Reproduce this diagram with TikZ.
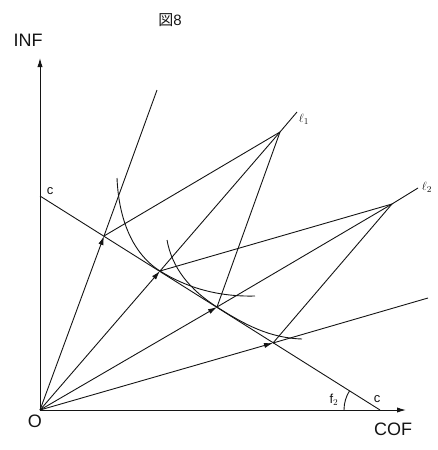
\documentclass[tikz,border=0pt]{standalone}
\usepackage{amsmath}
\usepackage{fontspec}
\setmainfont{Liberation Sans}
\newfontfamily\cjk{Noto Sans CJK JP}
\usepackage{tikz}
\usetikzlibrary{arrows.meta,calc}
\definecolor{inkblack}{RGB}{20,20,20}

\tikzset{
  lab/.style={inner sep=0pt, font=\fontsize{18}{20}\selectfont},
  small/.style={inner sep=0pt, font=\fontsize{13}{15}\selectfont},
  curve/.style={inkblack, line width=0.9pt},
}

\begin{document}
\begin{tikzpicture}[x=1pt, y=-1pt, line width=0.9pt, inkblack,
    >={Latex[length=9pt,width=5.2pt]}]
\useasboundingbox (0,0) rectangle (437,450);

% axes
\coordinate (O) at (40,410);
\coordinate (ytop) at (40,58);
\coordinate (xtop) at (406,410);
\draw[->] (O) -- (ytop);
\draw[->] (O) -- (xtop);
\node[lab] (inf) at (28,40) {INF};
\node[lab] (cof) at (393,429) {COF};
\node[lab] (orig) at (35,421) {O};
\node[inner sep=0pt, font=\fontsize{15}{17}\selectfont] (title) at (170,20) {{\cjk 図}8};

% cost line c--c
\coordinate (ca) at (40,196);
\coordinate (cb) at (380,410);
\draw (ca) -- (cb);
\node[small] (cl) at (50,191) {c};
\node[small] (cr) at (377,399) {c};
\draw (cb) ++(-36,0) arc[start angle=180, end angle=148, radius=36pt];
\node[inner sep=0pt, font=\fontsize{13}{15}\selectfont] (ftwo) at (334,400) {$\mathrm{f}_2$};

% points on the cost line
\coordinate (p1) at (104,236);
\coordinate (p2) at (160,271);
\coordinate (p3) at (217,307);
\coordinate (p4) at (273,343);

% rays from the origin
\coordinate (r1) at (157,90);
\coordinate (h1) at (280,132);
\coordinate (e1) at (297,112);
\coordinate (h2) at (392,204);
\coordinate (e2) at (418,188);
\coordinate (r4) at (428,298);
\draw[->] (O) -- (p1);
\draw (p1) -- (r1);
\draw[->] (O) -- (p2);
\draw (p2) -- (h1) -- (e1);
\draw[->] (O) -- (p3);
\draw (p3) -- (h2) -- (e2);
\draw[->] (O) -- (p4);
\draw (p4) -- (r4);
\node[inner sep=0pt, font=\fontsize{13}{15}\selectfont] (l1) at (304,119) {$\ell_1$};
\node[inner sep=0pt, font=\fontsize{13}{15}\selectfont] (l2) at (427,187) {$\ell_2$};

% lines to the hubs
\draw (p1) -- (h1) -- (p3);
\draw (p2) -- (h2) -- (p4);

% isoquants
\draw[curve] (117,178) .. controls (119,225) and (136,256) .. (p2)
    .. controls (184,286) and (215,297) .. (255,296);
\draw[curve] (167,240) .. controls (172,268) and (190,290) .. (p3)
    .. controls (245,325) and (270,338) .. (302,339);
\end{tikzpicture}
\end{document}
